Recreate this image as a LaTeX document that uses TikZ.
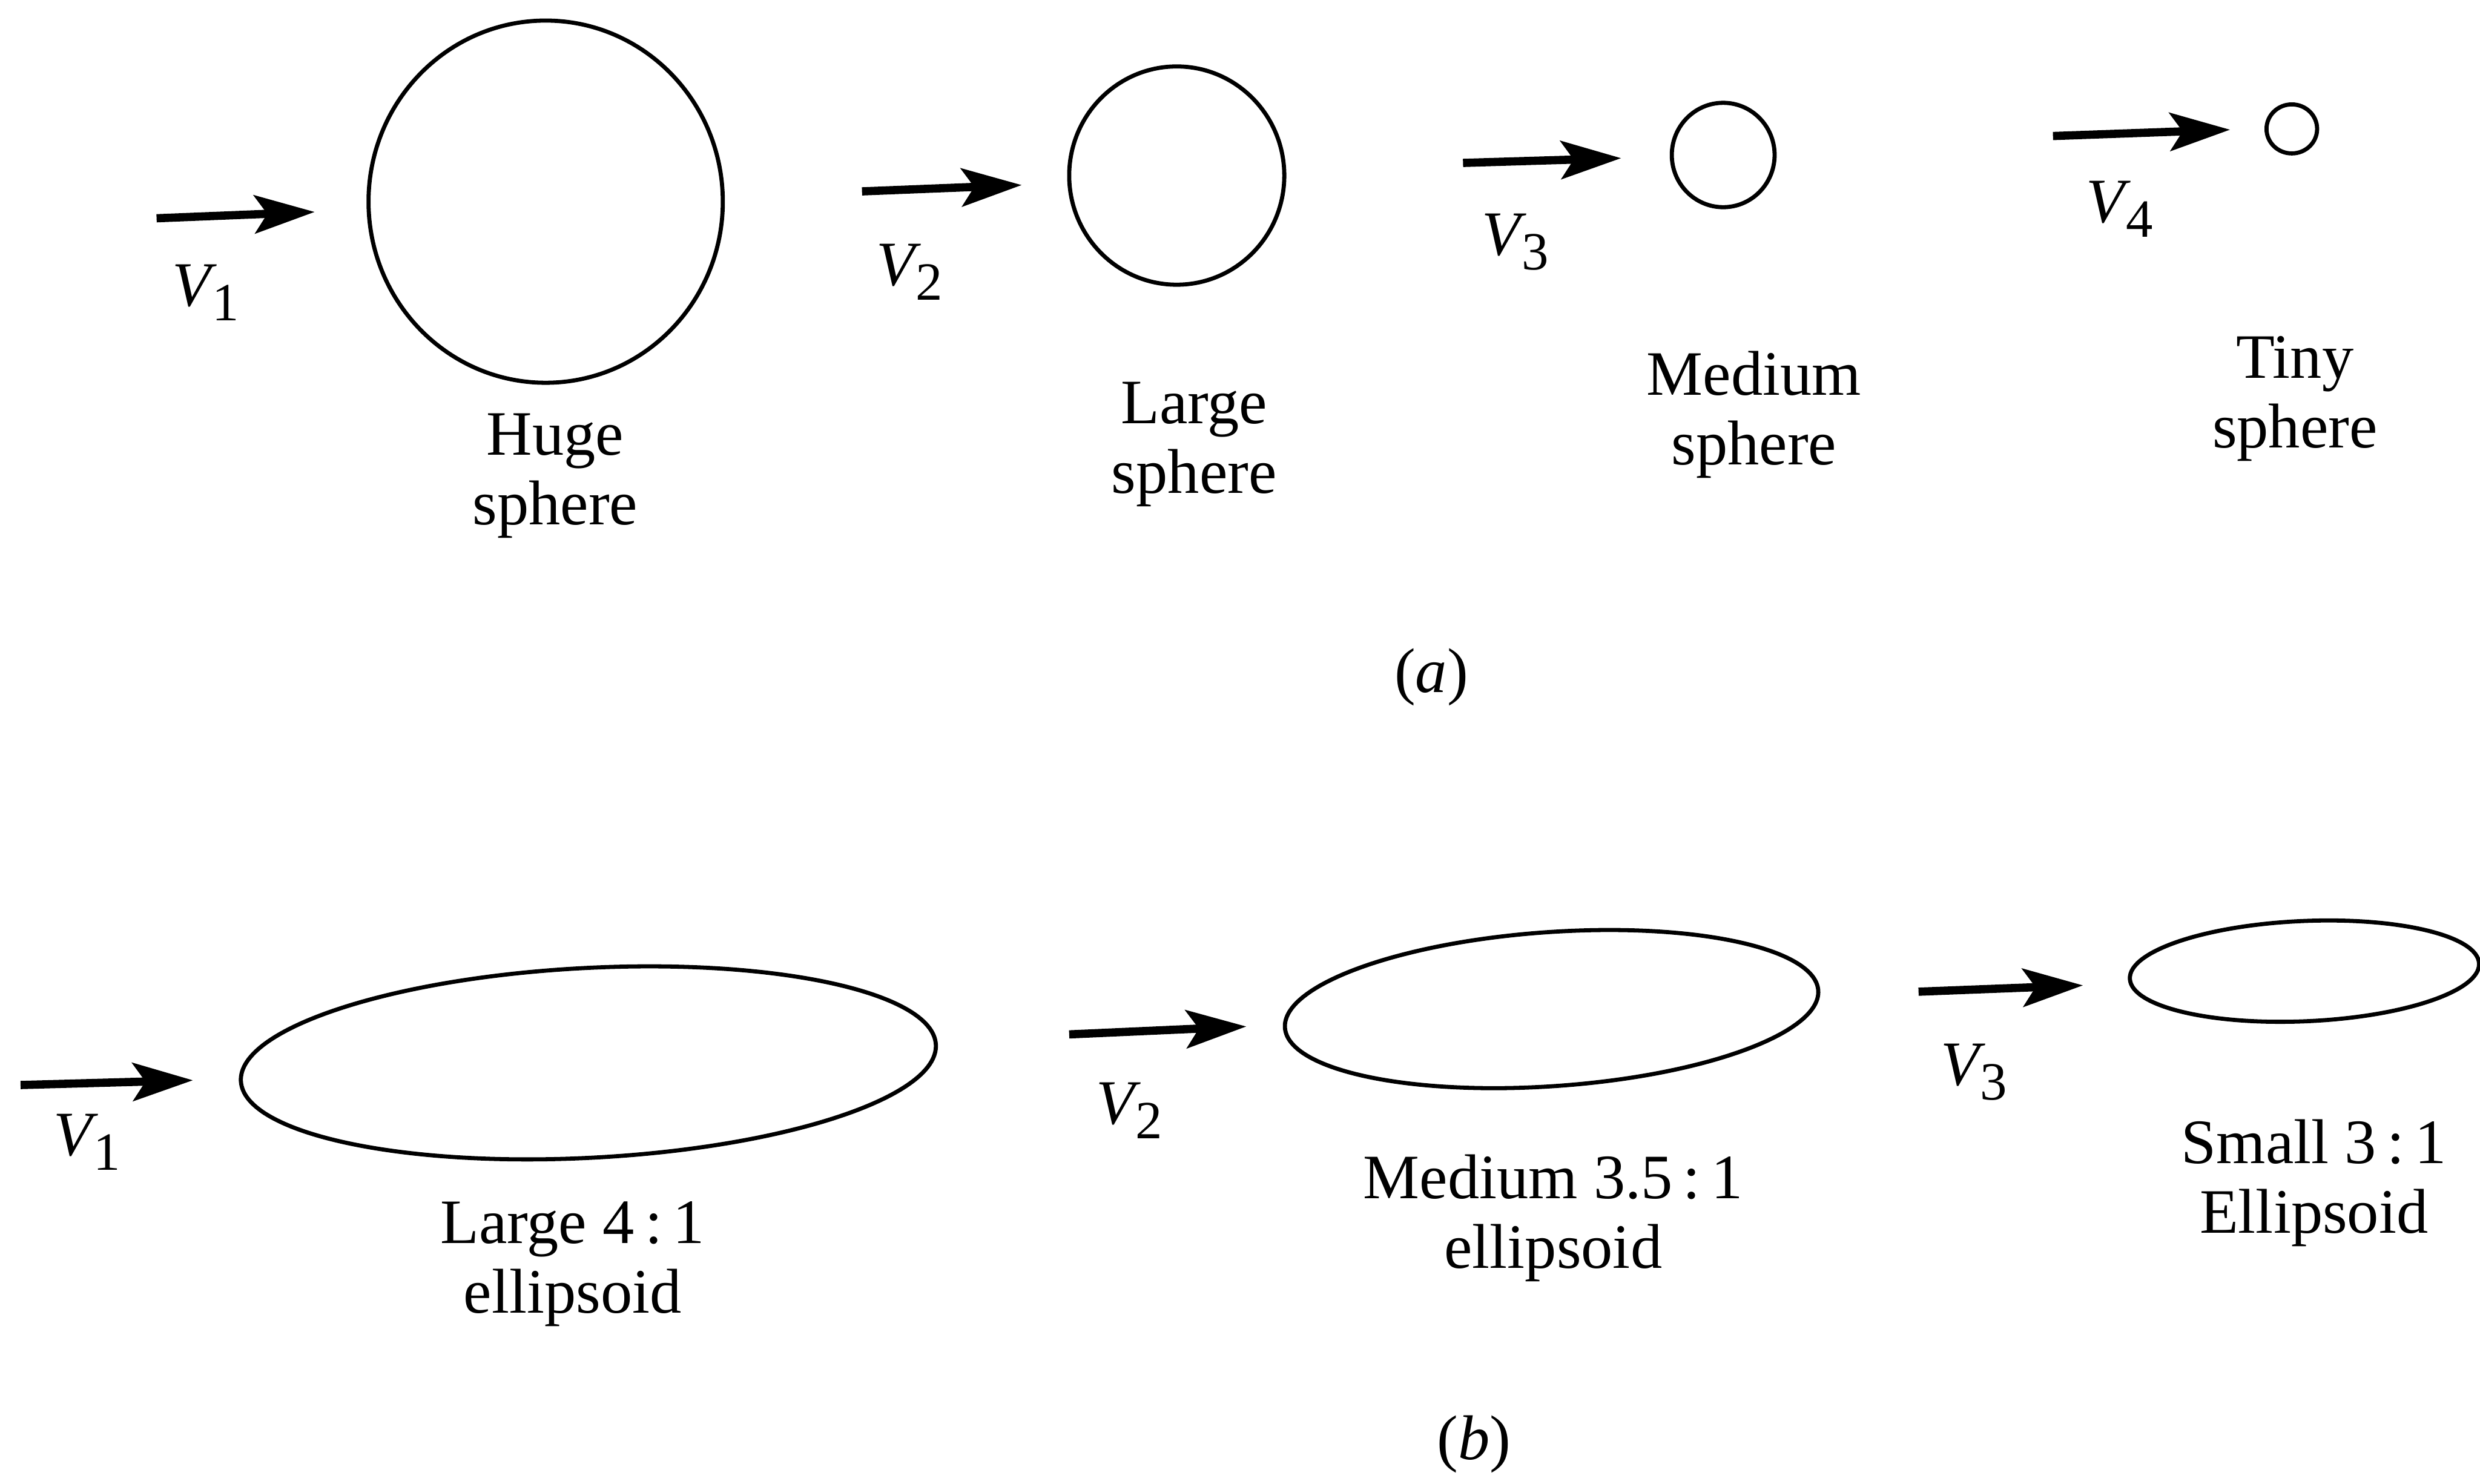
\documentclass[tikz,border=0pt]{standalone}
\usepackage{fontspec}
\setmainfont{Liberation Serif}
\usetikzlibrary{arrows.meta,shapes.geometric}
\newcommand{\vlab}[1]{\textit{V}\kern-0.08em\raisebox{-0.5ex}{\fontsize{17}{17}\selectfont #1}}
\tikzset{
  vel/.style={line width=2.6pt, -{Stealth[length=19pt,width=12pt,inset=4pt]}},
  ball/.style={draw, ellipse, line width=1.3pt, inner sep=0pt},
  lab/.style={align=center, font=\fontsize{20}{22}\selectfont, inner sep=0pt},
  vl/.style={font=\fontsize{20}{22}\selectfont, inner sep=0pt},
}
\begin{document}
\begin{tikzpicture}[x=0.5pt,y=-0.5pt]
\path[use as bounding box] (0,0) rectangle (1568,938);
% ---------- (a) spheres ----------
\node[ball, minimum width=112pt, minimum height=114.5pt] (huge) at (345,127.5) {};
\node[ball, minimum width=68pt, minimum height=69pt] (large) at (744,111) {};
\node[ball, minimum width=32.5pt, minimum height=33pt] (medium) at (1089.5,98) {};
\node[ball, minimum width=16pt, minimum height=15.5pt] (tiny) at (1449,81.5) {};
\coordinate (a1s) at (99,138);  \coordinate (a1e) at (199,134);
\coordinate (a2s) at (545,121); \coordinate (a2e) at (646,117);
\coordinate (a3s) at (925,103); \coordinate (a3e) at (1025,100);
\coordinate (a4s) at (1298,86); \coordinate (a4e) at (1410,82);
\draw[vel] (a1s) -- (a1e);
\draw[vel] (a2s) -- (a2e);
\draw[vel] (a3s) -- (a3e);
\draw[vel] (a4s) -- (a4e);
\node[vl] (va1) at (130,185) {\vlab{1}};
\node[vl] (va2) at (575,172) {\vlab{2}};
\node[vl] (va3) at (958,153) {\vlab{3}};
\node[vl] (va4) at (1340,132) {\vlab{4}};
\node[lab] (thuge) at (351,301) {Huge\\sphere};
\node[lab] (tlarge) at (755,281) {Large\\sphere};
\node[lab] (tmedium) at (1109,262) {Medium\\sphere};
\node[lab] (ttiny) at (1451,252) {Tiny\\sphere};
\node[vl] (capa) at (905,428) {(\textit{a})};
% ---------- (b) ellipsoids ----------
\node[ball, rotate=3, minimum width=220pt, minimum height=60pt] (e1) at (372,672) {};
\node[ball, rotate=4, minimum width=169pt, minimum height=48.7pt] (e2) at (981,638) {};
\node[ball, rotate=2.5, minimum width=110.5pt, minimum height=31.7pt] (e3) at (1457,614) {};
\coordinate (b1s) at (13,686);   \coordinate (b1e) at (122,683);
\coordinate (b2s) at (676,654);  \coordinate (b2e) at (788,649);
\coordinate (b3s) at (1213,627); \coordinate (b3e) at (1317,623);
\draw[vel] (b1s) -- (b1e);
\draw[vel] (b2s) -- (b2e);
\draw[vel] (b3s) -- (b3e);
\node[vl] (vb1) at (55,722) {\vlab{1}};
\node[vl] (vb2) at (714,702) {\vlab{2}};
\node[vl] (vb3) at (1248,678) {\vlab{3}};
\node[lab] (te1) at (362,799) {Large 4\,:\,1\\ellipsoid};
\node[lab] (te2) at (982,770) {Medium 3.5\,:\,1\\ellipsoid};
\node[lab] (te3) at (1463,748) {Small 3\,:\,1\\Ellipsoid};
\node[vl] (capb) at (932,913) {(\textit{b})};
\end{tikzpicture}
\end{document}
